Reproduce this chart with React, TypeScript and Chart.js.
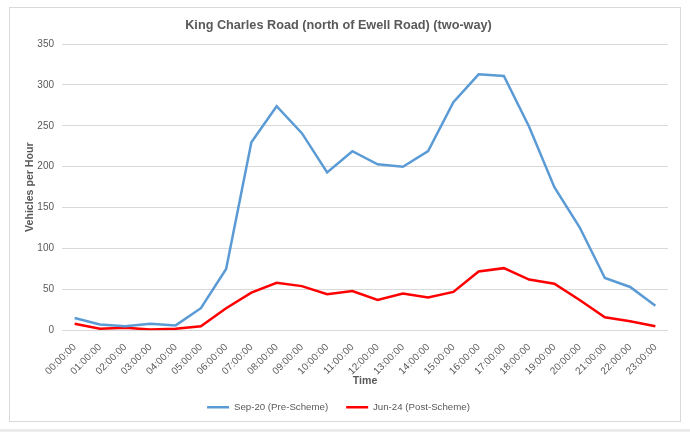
import React, { useEffect, useRef } from "react";
import { Chart, registerables } from "chart.js";

Chart.register(...registerables);

const categories = [
  "00:00:00", "01:00:00", "02:00:00", "03:00:00", "04:00:00", "05:00:00",
  "06:00:00", "07:00:00", "08:00:00", "09:00:00", "10:00:00", "11:00:00",
  "12:00:00", "13:00:00", "14:00:00", "15:00:00", "16:00:00", "17:00:00",
  "18:00:00", "19:00:00", "20:00:00", "21:00:00", "22:00:00", "23:00:00",
];

const preScheme = [15, 7, 5, 8, 6, 27, 75, 230, 274, 241, 193, 219, 203, 200, 219, 279, 313, 311, 249, 175, 126, 64, 53, 30];
const postScheme = [8, 2, 3, 1, 2, 5, 27, 46, 58, 54, 44, 48, 37, 45, 40, 47, 72, 76, 62, 57, 37, 16, 11, 5];

const seriesLabels = ["Sep-20 (Pre-Scheme)", "Jun-24 (Post-Scheme)"];
const chartTitle = "King Charles Road (north of Ewell Road) (two-way)";
const yTitle = "Vehicles per Hour";
const xTitle = "Time";

const FONT = "'Liberation Sans', Arial, sans-serif";
const TEXT = "#595959";
const GRID = "#D9D9D9";

export default function App() {
  const ref = useRef<HTMLCanvasElement>(null);

  useEffect(() => {
    if (!ref.current) return;
    const chart = new Chart(ref.current, {
      type: "line",
      data: {
        labels: categories,
        datasets: [
          {
            label: seriesLabels[0],
            data: preScheme,
            borderColor: "#5B9BD5",
            backgroundColor: "#5B9BD5",
            borderWidth: 2.5,
            pointRadius: 0,
            tension: 0,
          },
          {
            label: seriesLabels[1],
            data: postScheme,
            borderColor: "#FF0000",
            backgroundColor: "#FF0000",
            borderWidth: 2.5,
            pointRadius: 0,
            tension: 0,
          },
        ],
      },
      options: {
        responsive: false,
        animation: false,
        devicePixelRatio: 1,
        layout: { padding: { left: 9, right: 22, top: 0, bottom: 10 } },
        plugins: {
          title: {
            display: true,
            text: chartTitle,
            color: TEXT,
            font: { family: FONT, size: 12.7, weight: "bold" },
            padding: { top: 17.4, bottom: 11.4 },
          },
          legend: {
            position: "bottom",
            labels: {
              color: TEXT,
              font: { family: FONT, size: 9.7 },
              usePointStyle: true,
              pointStyle: "line",
              pointStyleWidth: 22,
              padding: 18,
            },
          },
          tooltip: { enabled: false },
        },
        scales: {
          x: {
            offset: true,
            grid: { display: false },
            border: { display: false },
            ticks: {
              color: TEXT,
              font: { family: FONT, size: 10 },
              minRotation: 45,
              maxRotation: 45,
              autoSkip: false,
              padding: 3,
            },
            title: {
              display: true,
              text: xTitle,
              color: TEXT,
              font: { family: FONT, size: 10.6, weight: "bold" },
              padding: { top: 0, bottom: -3.4 },
            },
            afterFit: (scale: any) => {
              scale.height = 54;
            },
          },
          y: {
            min: 0,
            max: 350,
            grid: { color: GRID, drawTicks: false, lineWidth: 1 },
            border: { display: false },
            ticks: {
              stepSize: 50,
              color: TEXT,
              font: { family: FONT, size: 10 },
              padding: 8,
            },
            title: {
              display: true,
              text: yTitle,
              color: TEXT,
              font: { family: FONT, size: 10.6, weight: "bold" },
              padding: { top: 14.6, bottom: 0 },
            },
            afterFit: (scale: any) => {
              scale.width = 53;
            },
          },
        },
      },
    });
    return () => chart.destroy();
  }, []);

  return (
    <div style={{ position: "absolute", left: 0, top: 0, width: 690, height: 432, background: "#fff", overflow: "hidden" }}>
      <div style={{ position: "absolute", left: 9, top: 7, width: 670, height: 413, border: "1px solid #D9D9D9" }} />
      <div style={{ position: "absolute", left: 0, top: 429, width: 690, height: 3, background: "#EBEBEB" }} />
      <canvas ref={ref} width={690} height={432} style={{ position: "absolute", left: 0, top: 0, width: 690, height: 432 }} />
    </div>
  );
}
